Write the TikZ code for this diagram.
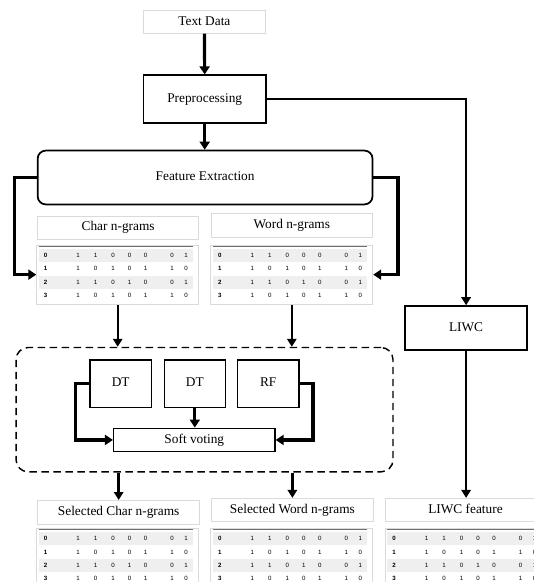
\documentclass[tikz,border=0pt]{standalone}
\usepackage{fontspec}
\setmainfont{Liberation Serif}
\newfontfamily\tabfont{Liberation Sans}
\usetikzlibrary{arrows.meta,fit,calc}
\definecolor{lgray}{HTML}{DADADA}
\definecolor{rowgray}{HTML}{EFEFEF}
\definecolor{hdline}{HTML}{707070}
\tikzset{
  every node/.style={inner sep=0pt, font=\fontsize{10}{12}\selectfont},
  every label/.style={inner sep=0pt, font=\fontsize{10}{12}\selectfont, text height=0.68em, text depth=0.2em},
  pbox/.style={draw, line width=1.3pt, fill=white},
  dtbox/.style={draw, line width=1.1pt, fill=white},
  lbox/.style={draw=lgray, line width=0.6pt, fill=white},
  tbl/.style={draw=lgray, line width=0.6pt},
  ensbox/.style={draw, line width=1.1pt, dash pattern=on 5.5pt off 3.5pt, rounded corners=9pt},
  thk/.style={line width=2.4pt, -{Triangle[length=6pt,width=7.5pt]}},
  med/.style={line width=1.8pt, -{Triangle[length=6pt,width=7pt]}},
  idx/.style={font=\tabfont\bfseries\fontsize{4.6}{5}\selectfont},
  val/.style={font=\tabfont\fontsize{4.6}{5}\selectfont},
}
% #1 name, #2 left x, #3 y of the dark header line
\newcommand\dftab[3]{%
  \node[tbl, fit={(#2,#3-1.7) (#2+162,#3+57.6)}] (#1) {};
  \fill[rowgray] (#2+2,#3+2.5) rectangle (#2+156,#3+15.5);
  \fill[rowgray] (#2+2,#3+29.1) rectangle (#2+156,#3+42.1);
  \draw[hdline, line width=1pt] (#2+2,#3) -- (#2+156,#3);
  \foreach \r/\a/\b/\c/\d/\e/\f/\g [count=\i from 0] in
     {0/1/1/0/0/0/0/1, 1/1/0/1/0/1/1/0, 2/1/1/0/1/0/0/1, 3/1/0/1/0/1/1/0}{
    \node[idx] (#1-r\i) at (#2+9,    #3+8.8+13.3*\i) {\r};
    \node[val] (#1-a\i) at (#2+41.5, #3+8.8+13.3*\i) {\a};
    \node[val] (#1-b\i) at (#2+59,   #3+8.8+13.3*\i) {\b};
    \node[val] (#1-c\i) at (#2+76.5, #3+8.8+13.3*\i) {\c};
    \node[val] (#1-d\i) at (#2+93,   #3+8.8+13.3*\i) {\d};
    \node[val] (#1-e\i) at (#2+109,  #3+8.8+13.3*\i) {\e};
    \node[val] (#1-f\i) at (#2+135.5,#3+8.8+13.3*\i) {\f};
    \node[val] (#1-g\i) at (#2+149.5,#3+8.8+13.3*\i) {\g};
  }%
}
\begin{document}
\begin{tikzpicture}[x=0.75pt,y=-0.75pt]
\useasboundingbox (0,0) rectangle (534,582);
\clip (0,0) rectangle (534,582);
\fill[white] (0,0) rectangle (534,582);

% top chain
\node[lbox, fit={(143.1,10.6) (265.7,33.2)}, label={[name=td-t]center:Text Data}] (td) {};
\node[pbox, fit={(143.4,75.3) (266,123.2)}, label={[name=pre-t]center:Preprocessing}] (pre) {};
\node[pbox, rounded corners=6pt, fit={(37.7,150.6) (372.5,204.4)}, label={[name=fe-t]center:Feature Extraction}] (fe) {};

% n-gram headers and tables
\node[lbox, fit={(37.7,216.1) (198.6,239.4)}, label={[name=ch-t]center:Char n-grams}] (ch) {};
\node[lbox, fit={(211.6,213.7) (372.1,237)}, label={[name=wh-t]center:Word n-grams}] (wh) {};
\dftab{ct}{36.7}{246.7}
\dftab{wt}{210.8}{246.7}

% LIWC
\node[pbox, fit={(405,306.1) (527.2,350.3)}, label={[name=liwc-t]center:LIWC}] (liwc) {};

% ensemble
\node[ensbox, fit={(16.1,347.5) (393,471.8)}] (ens) {};
\node[dtbox, fit={(90,359.9) (151.3,407.4)}, label={[name=dt1-t]center:DT}] (dt1) {};
\node[dtbox, fit={(164.3,359.9) (225.3,407.4)}, label={[name=dt2-t]center:DT}] (dt2) {};
\node[dtbox, fit={(237.6,359.9) (298.9,407.4)}, label={[name=rf-t]center:RF}] (rf) {};
\node[dtbox, fit={(113.7,428.3) (274.9,451.6)}, label={[name=sv-t]center:Soft voting}] (sv) {};

% selected outputs
\node[lbox, fit={(37.7,500.4) (199.6,524)}, label={[name=sch-t]center:Selected Char n-grams}] (sch) {};
\node[lbox, fit={(211.6,498.3) (373.2,521.6)}, label={[name=swh-t]center:Selected Word n-grams}] (swh) {};
\node[lbox, fit={(385.8,498.3) (547,521.6)}] (lfh) {};
\node[inner sep=0pt, text height=0.68em, text depth=0.2em] (lfh-t) at (465.5,510) {LIWC feature};
\dftab{sct}{36.7}{529.8}
\dftab{swt}{210.8}{529.8}
\dftab{lft}{385}{529.8}

% connectors
\draw[thk] (td.south) -- (pre.north);
\draw[thk] (pre.south) -- (pre.south |- fe.north);
\draw[med] (pre.east) -| (liwc.north);
\draw[thk] (fe.west) -- ++(-22.6,0) |- (ct.west);
\draw[thk] (fe.east) -- ++(24.6,0) |- (wt.east);
\draw[med] (ct.south) -- (ct.south |- ens.north);
\draw[med] (wt.south) -- (wt.south |- ens.north);
\draw[thk] (dt1.west) -- ++(-14,0) |- (sv.west);
\draw[thk] (dt2.south) -- (dt2.south |- sv.north);
\draw[thk] (rf.east) -- ++(13.3,0) |- (sv.east);
\draw[med] (sch.north |- ens.south) -- (sch.north);
\draw[med] (swh.north |- ens.south) -- (swh.north);
\draw[med] (liwc.south) -- (liwc.south |- lfh.north);
\end{tikzpicture}
\end{document}
